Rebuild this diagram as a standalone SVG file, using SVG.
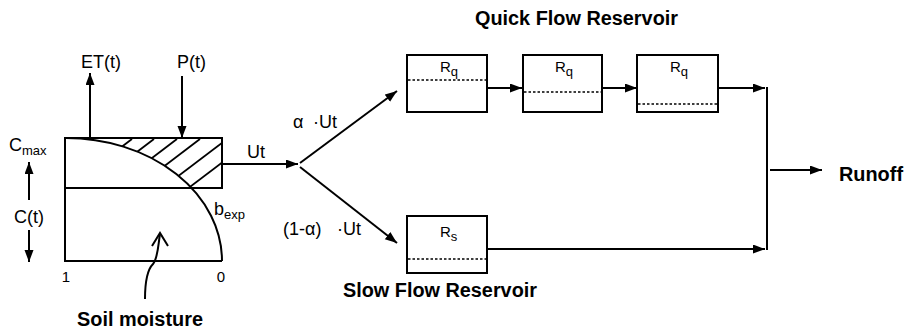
<svg xmlns="http://www.w3.org/2000/svg" width="904" height="333" viewBox="0 0 904 333">
<defs>
<marker id="ah" markerUnits="userSpaceOnUse" markerWidth="13" markerHeight="10" refX="12" refY="4.5" orient="auto">
<path d="M0,0 L12,4.5 L0,9 z" fill="#000"/>
</marker>
<clipPath id="hatchclip">
<path d="M66,138 L222,138 L222,188 L191.6,188 A156,123 0 0,0 66,138 Z"/>
</clipPath>
<style>
.box{fill:#fff;stroke:#000;stroke-width:2}
.ln{fill:none;stroke:#000;stroke-width:2}
.arr{fill:none;stroke:#000;stroke-width:2;marker-end:url(#ah)}
.dot{fill:none;stroke:#000;stroke-width:1.6;stroke-dasharray:2.5,2}
.lbl{font-family:"Liberation Sans",Arial,sans-serif;font-size:18px;fill:#000}
.sub{font-size:13px}
.ttl{font-family:"Liberation Sans",Arial,sans-serif;font-size:20px;font-weight:bold;fill:#000}
.r{font-family:"Liberation Sans",Arial,sans-serif;font-size:15px;fill:#000}
</style>
</defs>
<rect width="904" height="333" fill="#fff"/>

<g id="soil-store">
<rect class="box" x="65" y="138" width="157" height="50"/>
<path class="ln" d="M65,188 L65,261 L222,261"/>
<g clip-path="url(#hatchclip)" stroke="#000" stroke-width="1.8">
<line x1="132" y1="139" x2="32" y2="215"/>
<line x1="154" y1="139" x2="54" y2="215"/>
<line x1="177" y1="139" x2="77" y2="215"/>
<line x1="200" y1="139" x2="100" y2="215"/>
<line x1="227" y1="139" x2="127" y2="215"/>
<line x1="253" y1="139" x2="153" y2="215"/>
</g>
<path class="ln" d="M66,138 A156,123 0 0,1 222,261"/>
<text class="lbl" x="214" y="215">b<tspan class="sub" dy="4">exp</tspan></text>
<text class="r" x="66" y="282" text-anchor="middle">1</text>
<text class="r" x="221" y="282" text-anchor="middle">0</text>
<text class="lbl" x="9" y="151">C<tspan class="sub" dy="4">max</tspan></text>
<text class="lbl" x="14" y="223">C(t)</text>
<text class="lbl" x="81" y="68">ET(t)</text>
<text class="lbl" x="177" y="68">P(t)</text>
<text class="lbl" x="247" y="158">Ut</text>
</g>

<g id="soil-moisture-label">
<text class="ttl" x="77" y="326" textLength="126" lengthAdjust="spacingAndGlyphs">Soil moisture</text>
<path class="ln" stroke-width="1.3" d="M145,299 C145,282 147,270 153,264 C158,258 158,246 160,234"/>
<path class="ln" stroke-width="1.3" d="M152,246 L160,233 L168,246"/>
</g>

<g id="quick-title">
<text class="ttl" x="475" y="25" textLength="203" lengthAdjust="spacingAndGlyphs">Quick Flow Reservoir</text>
</g>

<g id="quick1">
<rect class="box" x="407" y="55" width="80" height="57"/>
<line class="dot" x1="408" y1="80" x2="486" y2="80"/>
<text class="r" x="440" y="72">R<tspan class="sub" dy="4">q</tspan></text>
</g>
<g id="quick2">
<rect class="box" x="523" y="55" width="79" height="57"/>
<line class="dot" x1="524" y1="92" x2="601" y2="92"/>
<text class="r" x="555" y="72">R<tspan class="sub" dy="4">q</tspan></text>
</g>
<g id="quick3">
<rect class="box" x="637" y="55" width="81" height="57"/>
<line class="dot" x1="638" y1="104" x2="717" y2="104"/>
<text class="r" x="670" y="72">R<tspan class="sub" dy="4">q</tspan></text>
</g>

<g id="slow">
<rect class="box" x="407" y="216" width="80" height="57"/>
<line class="dot" x1="408" y1="259" x2="486" y2="259"/>
<text class="r" x="440" y="237">R<tspan class="sub" dy="4">s</tspan></text>
</g>
<g id="slow-title">
<text class="ttl" x="343" y="297" textLength="194" lengthAdjust="spacingAndGlyphs">Slow Flow Reservoir</text>
</g>

<g id="runoff">
<text class="ttl" x="839" y="181" textLength="64" lengthAdjust="spacingAndGlyphs">Runoff</text>
</g>

<g id="connectors">
<line class="arr" x1="90" y1="138" x2="90" y2="73"/>
<line class="arr" x1="182" y1="76" x2="182" y2="138"/>
<line class="arr" x1="29" y1="200" x2="29" y2="162"/>
<line class="arr" x1="29" y1="230" x2="29" y2="262"/>
<line class="arr" x1="222" y1="164" x2="298" y2="164"/>
<line class="arr" x1="300" y1="163" x2="397" y2="91"/>
<line class="arr" x1="300" y1="167" x2="397" y2="243"/>
<text class="lbl"><tspan x="293" y="128">α</tspan><tspan x="313" y="128">·Ut</tspan></text>
<text class="lbl"><tspan x="283" y="235">(1-α)</tspan><tspan x="337" y="235">·Ut</tspan></text>
<line class="arr" x1="487" y1="88" x2="522" y2="88"/>
<line class="arr" x1="602" y1="88" x2="637" y2="88"/>
<line class="arr" x1="718" y1="88" x2="765" y2="88"/>
<line class="arr" x1="487" y1="249" x2="765" y2="249"/>
<line class="ln" x1="767" y1="87" x2="767" y2="250"/>
<line class="arr" x1="770" y1="170" x2="822" y2="170"/>
</g>
</svg>
